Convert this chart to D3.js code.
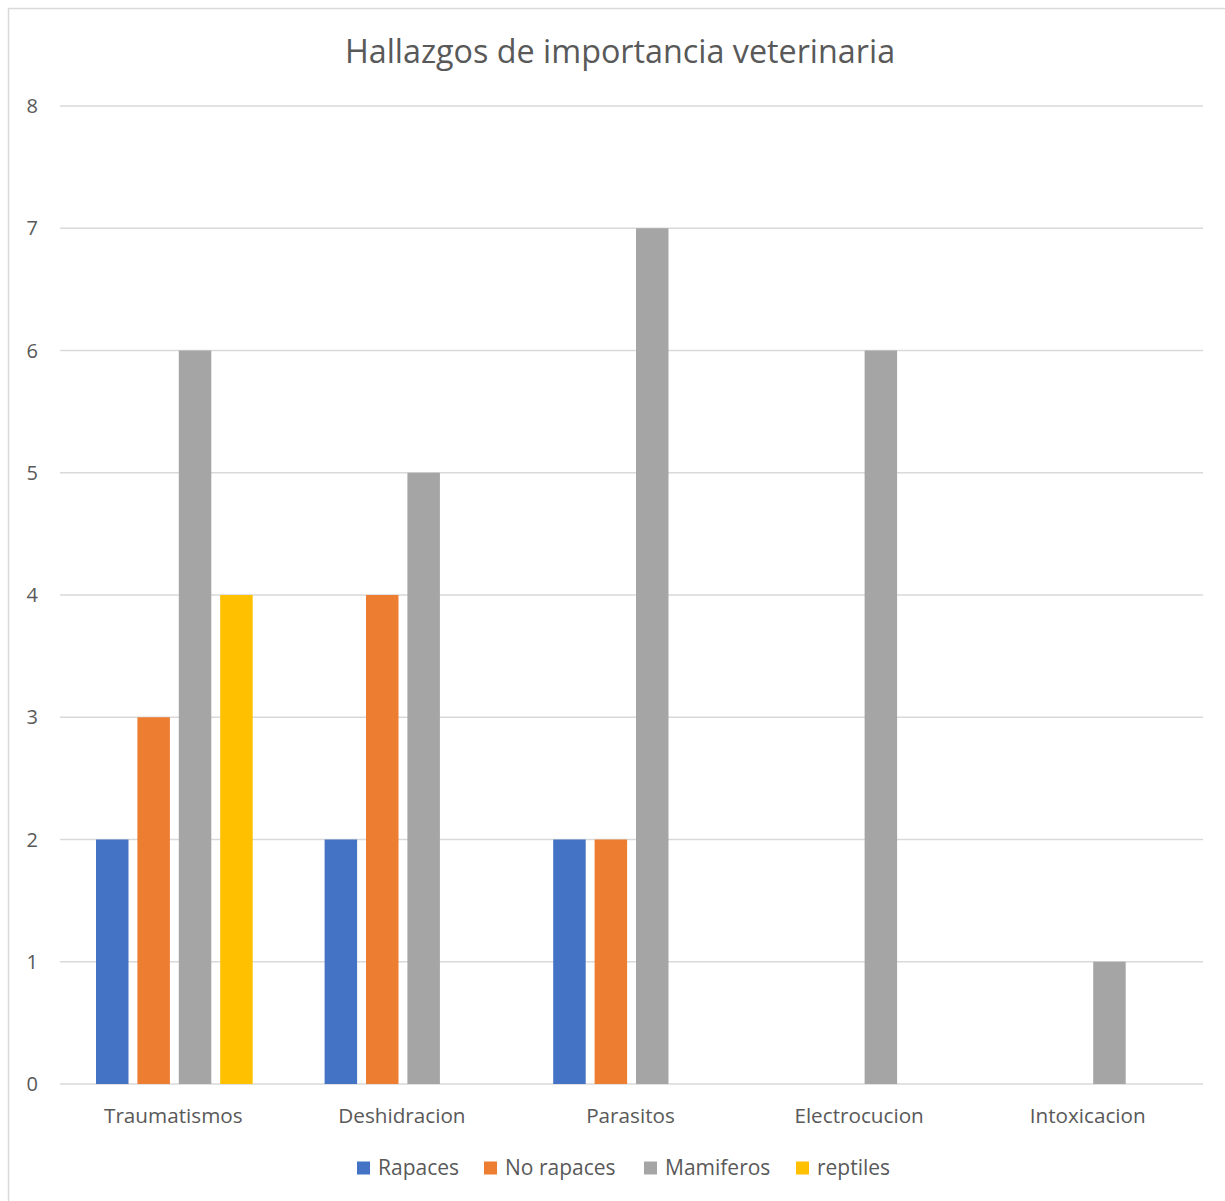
<!DOCTYPE html>
<html>
<head>
<meta charset="utf-8">
<script src="https://cdn.jsdelivr.net/npm/d3@7"></script>
<style>
  body { margin: 0; background: #fff; }
  text { font-family: "Open Sans", "Noto Sans", sans-serif; fill: #595959; }
</style>
</head>
<body>
<div id="chart"></div>
<script>
// data
const categories = ["Traumatismos", "Deshidracion", "Parasitos", "Electrocucion", "Intoxicacion"];
const seriesNames = ["Rapaces", "No rapaces", "Mamiferos", "reptiles"];
const rapaces = [2, 2, 2, 0, 0];
const noRapaces = [3, 4, 2, 0, 0];
const mamiferos = [6, 5, 7, 6, 1];
const reptiles = [4, 0, 0, 0, 0];
const yTicks = [0, 1, 2, 3, 4, 5, 6, 7, 8];
const colors = ["#4472c4", "#ed7d31", "#a5a5a5", "#ffc000"];

const width = 1225, height = 1201;
const plotLeft = 60, plotRight = 1203, plotTop = 106, plotBottom = 1084;

const svg = d3.select('#chart').append('svg')
  .attr('width', width)
  .attr('height', height);

// chart border
svg.append('rect')
  .attr('x', 8.5).attr('y', 8.5)
  .attr('width', 1240).attr('height', 1220)
  .attr('fill', 'none')
  .attr('stroke', '#d9d9d9')
  .attr('stroke-width', 1.5);

const y = d3.scaleLinear().domain([0, 8]).range([plotBottom, plotTop]);
const x0 = d3.scaleBand().domain(categories).range([plotLeft, plotRight]);
const x1 = d3.scaleBand().domain(seriesNames).range([36, 192.7]).paddingInner(0.215);

// grid lines
svg.append('g')
  .selectAll('line')
  .data(yTicks)
  .enter().append('line')
  .attr('x1', plotLeft).attr('x2', plotRight)
  .attr('y1', d => y(d)).attr('y2', d => y(d))
  .attr('stroke', '#d9d9d9')
  .attr('stroke-width', 1.5);

// y tick labels
svg.append('g')
  .selectAll('text')
  .data(yTicks)
  .enter().append('text')
  .attr('x', 38)
  .attr('y', d => y(d))
  .attr('dy', '0.35em')
  .attr('text-anchor', 'end')
  .style('font-size', '20px')
  .text(d => d);

// bars
const seriesValues = [rapaces, noRapaces, mamiferos, reptiles];
const barData = [];
categories.forEach((c, i) => {
  seriesNames.forEach((s, j) => {
    barData.push({ cat: c, series: s, value: seriesValues[j][i], color: colors[j] });
  });
});

svg.append('g')
  .selectAll('rect')
  .data(barData.filter(d => d.value > 0))
  .enter().append('rect')
  .attr('x', d => x0(d.cat) + x1(d.series))
  .attr('y', d => y(d.value))
  .attr('width', x1.bandwidth())
  .attr('height', d => y(0) - y(d.value))
  .attr('fill', d => d.color);

// x labels
svg.append('g')
  .selectAll('text')
  .data(categories)
  .enter().append('text')
  .attr('x', d => x0(d) + x0.bandwidth() / 2 - 1)
  .attr('y', 1116)
  .attr('dy', '0.35em')
  .attr('text-anchor', 'middle')
  .style('font-size', '20.7px')
  .text(d => d);

// title
svg.append('text')
  .attr('x', 620)
  .attr('y', 52)
  .attr('dy', '0.35em')
  .attr('text-anchor', 'middle')
  .style('font-size', '32.3px')
  .text('Hallazgos de importancia veterinaria');

// legend
const legendX = [357, 484, 644, 796];
const legend = svg.append('g')
  .selectAll('g')
  .data(seriesNames)
  .enter().append('g')
  .attr('transform', (d, i) => `translate(${legendX[i]}, 1168)`);

legend.append('rect')
  .attr('x', 0).attr('y', -6.5)
  .attr('width', 13).attr('height', 13)
  .attr('fill', (d, i) => colors[i]);

legend.append('text')
  .attr('x', 21)
  .attr('dy', '0.35em')
  .style('font-size', '21px')
  .text(d => d);
</script>
</body>
</html>
